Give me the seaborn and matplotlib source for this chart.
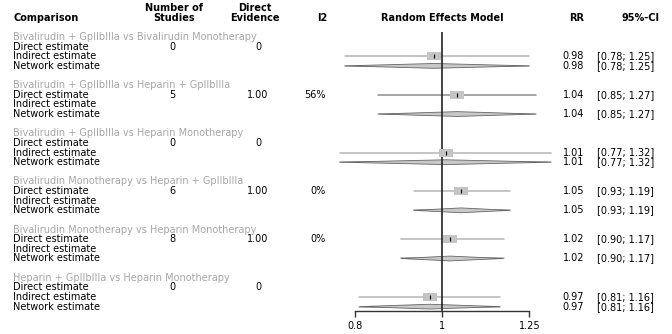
import numpy as np
import matplotlib
matplotlib.use('Agg')
import matplotlib.pyplot as plt
import matplotlib.transforms as mtransforms
from matplotlib.patches import Polygon
import seaborn as sns

# data
comparisons = ['Bivalirudin + GpIIbIIIa vs Bivalirudin Monotherapy',
               'Bivalirudin + GpIIbIIIa vs Heparin + GpIIbIIIa',
               'Bivalirudin + GpIIbIIIa vs Heparin Monotherapy',
               'Bivalirudin Monotherapy vs Heparin + GpIIbIIIa',
               'Bivalirudin Monotherapy vs Heparin Monotherapy',
               'Heparin + GpIIbIIIa vs Heparin Monotherapy']
n_studies = [0, 5, 0, 6, 8, 0]
direct_evidence = [0, 1.0, 0, 1.0, 1.0, 0]
i2 = [np.nan, 56, np.nan, 0, 0, np.nan]

direct_rr = [np.nan, 1.04, np.nan, 1.05, 1.02, np.nan]
direct_lo = [np.nan, 0.85, np.nan, 0.93, 0.90, np.nan]
direct_hi = [np.nan, 1.27, np.nan, 1.19, 1.17, np.nan]

indirect_rr = [0.98, np.nan, 1.01, np.nan, np.nan, 0.97]
indirect_lo = [0.78, np.nan, 0.77, np.nan, np.nan, 0.81]
indirect_hi = [1.25, np.nan, 1.32, np.nan, np.nan, 1.16]

network_rr = [0.98, 1.04, 1.01, 1.05, 1.02, 0.97]
network_lo = [0.78, 0.85, 0.77, 0.93, 0.90, 0.81]
network_hi = [1.25, 1.27, 1.32, 1.19, 1.17, 1.16]

row_names = ['Direct estimate', 'Indirect estimate', 'Network estimate']
x_ticks = [0.8, 1, 1.25]
x_ticklabels = ['0.8', '1', '1.25']

sns.set_theme(style='white')
plt.rcParams['font.family'] = ['DejaVu Sans']
plt.rcParams['text.color'] = 'black'
plt.rcParams['xtick.color'] = 'black'
FS = 7.0

W, H = 672, 334
fig = plt.figure(figsize=(W / 100, H / 100), dpi=100)

# rows: every comparison takes 5 rows (title, direct, indirect, network, gap)
pitch = 9.63
top_px, bot_px = 37, 311
ax_left, ax_right = 336, 560
ax = fig.add_axes([ax_left / W, (H - bot_px) / H, (ax_right - ax_left) / W, bot_px / H])
ax.set_xscale('log')
ppl = 392.0  # pixels per log unit
ax.set_xlim(np.exp((ax_left - 442) / ppl), np.exp((ax_right - 442) / ppl))
ax.set_ylim((bot_px - top_px) / pitch, -top_px / pitch)

trans = mtransforms.blended_transform_factory(fig.transFigure, ax.transData)
def fx(px):
    return px / W

line_col = '#b4b4b4'
sq_col = '#c4c4c4'
rect = [(-1, -0.55), (1, -0.55), (1, 0.55), (-1, 0.55)]


def rr_text(y, est, lo, hi):
    ax.text(fx(584), y, f'{est:.2f}', transform=trans, fontsize=FS, va='center', ha='right')
    ax.text(fx(597), y, f'[{lo:.2f}; {hi:.2f}]', transform=trans, fontsize=FS, va='center', ha='left')


sq_x, sq_y = [], []
for g, comp in enumerate(comparisons):
    r0 = g * 5
    ax.text(fx(13), r0, comp, transform=trans, color='#a6a6a6', fontsize=FS, va='center', ha='left')
    for k, name in enumerate(row_names):
        ax.text(fx(13), r0 + 1 + k, name, transform=trans, color='black', fontsize=FS, va='center', ha='left')
    # table columns on direct row
    ax.text(fx(172), r0 + 1, str(n_studies[g]), transform=trans, fontsize=FS, va='center', ha='center')
    de = direct_evidence[g]
    ax.text(fx(258), r0 + 1, '0' if de == 0 else f'{de:.2f}', transform=trans, fontsize=FS, va='center', ha='center')
    if not np.isnan(i2[g]):
        ax.text(fx(326), r0 + 1, f'{i2[g]:.0f}%', transform=trans, fontsize=FS, va='center', ha='right')

    # direct estimate
    if not np.isnan(direct_rr[g]):
        y = r0 + 1
        ax.plot([direct_lo[g], direct_hi[g]], [y, y], color='#8c8c8c' if g == 1 else line_col, lw=1.1, zorder=2)
        sq_x.append(direct_rr[g]); sq_y.append(y)
        rr_text(y, direct_rr[g], direct_lo[g], direct_hi[g])
    # indirect estimate
    if not np.isnan(indirect_rr[g]):
        y = r0 + 2
        ax.plot([indirect_lo[g], indirect_hi[g]], [y, y], color=line_col, lw=1.1, zorder=2)
        sq_x.append(indirect_rr[g]); sq_y.append(y)
        rr_text(y, indirect_rr[g], indirect_lo[g], indirect_hi[g])
    # network estimate (diamond)
    y = r0 + 3
    ax.plot([network_lo[g], network_hi[g]], [y, y], color=line_col, lw=1.1, zorder=2)
    h = 0.25
    dia = Polygon([(network_lo[g], y), (network_rr[g], y - h), (network_hi[g], y), (network_rr[g], y + h)],
                  closed=True, facecolor='#c8c8c8', edgecolor='#666666', lw=0.6, zorder=3)
    ax.add_patch(dia)
    rr_text(y, network_rr[g], network_lo[g], network_hi[g])

sns.scatterplot(x=sq_x, y=sq_y, marker=rect, s=100, color=sq_col, linewidth=0, ax=ax, zorder=4, legend=False)
ax.scatter(sq_x, sq_y, marker='|', s=6, color='black', linewidths=0.8, zorder=5)

# reference line at RR = 1
ax.vlines(1, -0.55, (bot_px - top_px) / pitch, color='#222222', lw=1.2, zorder=3)

# headers
hy1, hy2 = (8 - top_px) / pitch, (18 - top_px) / pitch
hk = dict(transform=trans, fontsize=FS, fontweight='bold', va='center', color='black')
ax.text(fx(13), hy2, 'Comparison', ha='left', **hk)
ax.text(fx(174), hy1, 'Number of', ha='center', **hk)
ax.text(fx(174), hy2, 'Studies', ha='center', **hk)
ax.text(fx(255), hy1, 'Direct', ha='center', **hk)
ax.text(fx(255), hy2, 'Evidence', ha='center', **hk)
ax.text(fx(322), hy2, 'I2', ha='center', **hk)
ax.text(fx(442), hy2, 'Random Effects Model', ha='center', **hk)
ax.text(fx(577), hy2, 'RR', ha='center', **hk)
ax.text(fx(622), hy2, '95%-CI', ha='left', **hk)

# x axis
for s in ['top', 'left', 'right']:
    ax.spines[s].set_visible(False)
ax.spines['bottom'].set_bounds(0.8, 1.25)
ax.spines['bottom'].set_color('#333333')
ax.spines['bottom'].set_linewidth(1.0)
ax.set_xticks(x_ticks)
ax.set_xticklabels(x_ticklabels, fontsize=FS, color='black')
ax.xaxis.set_minor_locator(matplotlib.ticker.NullLocator())
ax.tick_params(axis='x', direction='out', length=4, width=1.0, color='#333333', pad=3, bottom=True)
ax.set_yticks([])
ax.set_facecolor('none')
ax.grid(False)

fig.savefig('out.png', dpi=100)
